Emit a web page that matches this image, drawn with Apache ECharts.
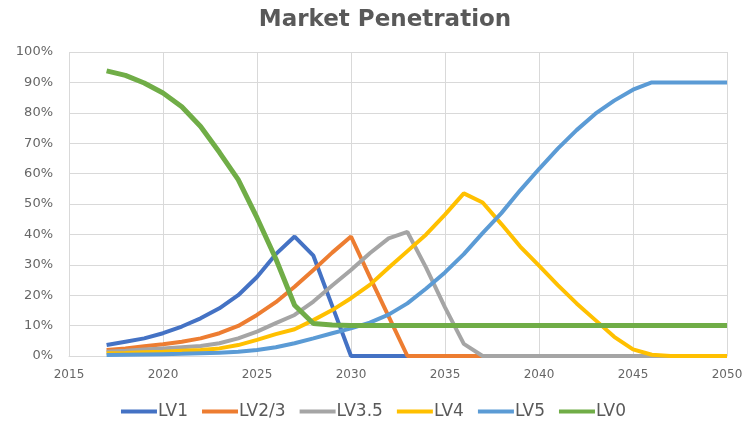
<!DOCTYPE html>
<html>
<head>
<meta charset="utf-8">
<script src="https://cdn.jsdelivr.net/npm/echarts@6/dist/echarts.min.js"></script>
<style>
html,body{margin:0;padding:0;background:#fff;}
#chart{width:747px;height:422px;}
</style>
</head>
<body>
<div id="chart"></div>
<script>
var years = [];
for (var y = 2017; y <= 2050; y++) years.push(y);

var seriesNames = ['LV1', 'LV2/3', 'LV3.5', 'LV4', 'LV5', 'LV0'];

var lv1 = [3.6, 4.7, 5.8, 7.5, 9.7, 12.4, 15.7, 20, 26, 33.5, 39.3, 33, 16.5, 0,
  0, 0, 0, 0, 0, 0, 0, 0, 0, 0, 0, 0, 0, 0, 0, 0, 0, 0, 0, 0];
var lv23 = [2, 2.5, 3.2, 3.9, 4.7, 5.8, 7.5, 9.9, 13.5, 17.7, 22.8, 28.3, 34, 39.3,
  26, 13, 0, 0, 0, 0, 0, 0, 0, 0, 0, 0, 0, 0, 0, 0, 0, 0, 0, 0];
var lv35 = [1.4, 1.7, 2.1, 2.5, 2.9, 3.3, 4.2, 5.8, 8, 10.8, 13.5, 17.9, 23.2, 28.3,
  33.8, 38.7, 40.8, 29, 16, 4, 0, 0, 0, 0, 0, 0, 0, 0, 0, 0, 0, 0, 0, 0];
var lv4 = [0.9, 1.0, 1.2, 1.4, 1.7, 2, 2.5, 3.6, 5.3, 7.2, 8.8, 11.8, 15.1, 19,
  23.4, 29, 34.5, 40, 46.5, 53.5, 50.5, 43.4, 36, 29.7, 23.3, 17.3, 11.8, 6.3, 2.2, 0.4,
  0, 0, 0, 0];
var lv5 = [0.3, 0.4, 0.5, 0.6, 0.7, 0.9, 1.1, 1.4, 2, 2.9, 4.2, 5.8, 7.5, 9.1,
  11, 13.6, 17.3, 22.2, 27.5, 33.5, 40.4, 47, 54.5, 61.5, 68.2, 74.3, 79.7, 84, 87.6, 90,
  90, 90, 90, 90];
var lv0 = [93.8, 92.3, 89.8, 86.5, 82, 75.5, 67, 58, 45.5, 32, 16.7, 10.7, 10.2, 10,
  10, 10, 10, 10, 10, 10, 10, 10, 10, 10, 10, 10, 10, 10, 10, 10, 10, 10, 10, 10];

var xTicks = [2015, 2020, 2025, 2030, 2035, 2040, 2045, 2050];

var colors = ['#4472C4', '#ED7D31', '#A5A5A5', '#FFC000', '#5B9BD5', '#70AD47'];
var widths = [4, 4, 4, 4, 4, 5];
var allData = [lv1, lv23, lv35, lv4, lv5, lv0];

function pairs(vals) {
  return years.map(function (yr, i) { return [yr, vals[i]]; });
}

var chart = echarts.init(document.getElementById('chart'), null, {renderer: 'canvas'});
chart.setOption({
  animation: false,
  color: colors,
  title: {
    text: 'Market Penetration',
    left: 380,
    top: 4,
    textAlign: 'center',
    textStyle: {fontFamily: 'DejaVu Sans', fontWeight: 'bold', fontSize: 23, color: '#595959'}
  },
  legend: {
    data: seriesNames,
    left: 'center',
    top: 398,
    icon: 'rect',
    itemWidth: 36,
    itemHeight: 4,
    itemGap: 14,
    textStyle: {fontFamily: 'DejaVu Sans', fontSize: 17, color: '#595959', padding: [0, 0, 0, -4]}
  },
  grid: {left: 69, right: 20, top: 52, bottom: 66, containLabel: false},
  xAxis: {
    type: 'value',
    min: 2015,
    max: 2050,
    interval: 5,
    axisLine: {show: true, lineStyle: {color: '#d9d9d9', width: 1}},
    axisTick: {show: false},
    splitLine: {show: true, lineStyle: {color: '#d9d9d9', width: 1}},
    axisLabel: {
      margin: 13,
      fontFamily: 'DejaVu Sans',
      fontSize: 12,
      color: '#666',
      formatter: function (v) { return xTicks.indexOf(v) >= 0 ? String(v) : ''; }
    }
  },
  yAxis: {
    type: 'value',
    min: 0,
    max: 100,
    interval: 10,
    axisLine: {show: false},
    axisTick: {show: false},
    splitLine: {show: true, lineStyle: {color: '#d9d9d9', width: 1}},
    axisLabel: {margin: 16, fontFamily: 'DejaVu Sans', fontSize: 13, color: '#666', formatter: '{value}%'}
  },
  series: seriesNames.map(function (name, i) {
    return {
      name: name,
      type: 'line',
      data: pairs(allData[i]),
      showSymbol: false,
      symbol: 'none',
      smooth: false,
      lineStyle: {width: widths[i], color: colors[i]},
      itemStyle: {color: colors[i]},
      z: 2 + i
    };
  })
});
</script>
</body>
</html>
